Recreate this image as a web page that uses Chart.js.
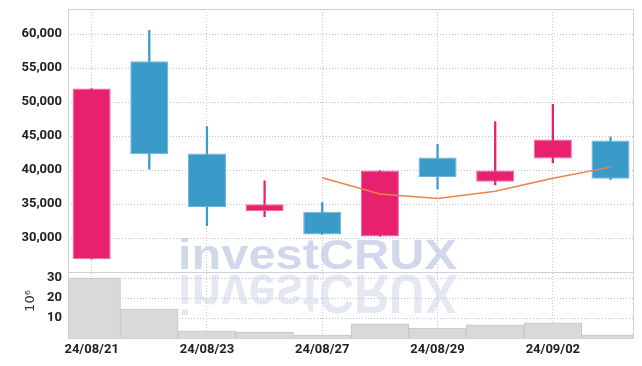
<!DOCTYPE html>
<html>
<head>
<meta charset="utf-8">
<script src="https://cdn.jsdelivr.net/npm/chart.js@4/dist/chart.umd.min.js"></script>
<style>
html, body { margin: 0; padding: 0; background: #fff; }
#pre { position: absolute; left: -2000px; top: 0; font: bold 42px "Liberation Sans"; }
</style>
</head>
<body>
<div id="pre">investCRUX</div>
<canvas id="chart" width="642" height="366"></canvas>
<script>
// Tagesdaten
var dates = ['24/08/21', '24/08/22', '24/08/23', '24/08/26', '24/08/27', '24/08/28', '24/08/29', '24/08/30', '24/09/02', '24/09/03'];
var openP = [26900, 56000, 42450, 34000, 33900, 30250, 41850, 38300, 41700, 44350];
var closeP = [52000, 42350, 34600, 35000, 30550, 39950, 39000, 39950, 44500, 38750];
var highP = [52000, 60550, 46400, 38450, 35250, 39950, 43800, 47150, 49700, 44850];
var lowP = [26900, 40150, 31850, 33150, 30550, 30250, 37250, 37850, 41050, 38600];
var ma5 = [null, null, null, null, 38900, 36500, 35850, 36900, 38800, 40450];
var volume = [30.0, 14.5, 3.6, 3.0, 1.5, 7.1, 5.0, 6.6, 7.6, 1.6]; // in 10^6
var priceTicks = [30000, 35000, 40000, 45000, 50000, 55000, 60000];
var volumeTicks = [10, 20, 30];
var xLabelIdx = [0, 2, 4, 6, 8];

var RED = '#e8216f';
var BLUE = '#3a9bc9';
var tickFont = { family: 'Roboto, "DejaVu Sans", sans-serif', size: 13, weight: 'bold' };

var candleColor = openP.map((o, i) => closeP[i] >= o ? RED : BLUE);
var candleBorder = openP.map((o, i) => closeP[i] >= o ? '#f06a9c' : '#6ab4d8');

var bodies = dates.map((d, i) => ({ x: i, y: [openP[i], closeP[i]] }));
var wicks = dates.map((d, i) => ({ x: i, y: [lowP[i], highP[i]] }));
var vols = dates.map((d, i) => ({ x: i, y: volume[i] }));
var maPts = [];
ma5.forEach((v, i) => { if (v !== null) maPts.push({ x: i, y: v }); });

var noPadY = (s) => { s.width = 68; s.paddingTop = 0; s.paddingBottom = 0; };

// Wasserzeichen und Rahmen
var drawMark = (ctx, x, y, sy, fill) => {
    ctx.save();
    ctx.font = 'bold 42px "Liberation Sans", Arial, sans-serif';
    ctx.textAlign = 'left';
    ctx.textBaseline = 'alphabetic';
    var w = ctx.measureText('investCRUX').width;
    ctx.fillStyle = fill;
    ctx.translate(x, y);
    ctx.scale(279 / w, sy);
    ctx.fillText('investCRUX', 0, 0);
    ctx.restore();
};

var decoPlugin = {
    id: 'deco',
    beforeDatasetsDraw: (chart) => {
        var ctx = chart.ctx;
        drawMark(ctx, 178, 268.5, 1, 'rgba(180,190,222,0.6)');
        drawMark(ctx, 178, 275, -1.3, 'rgba(180,190,222,0.35)');
    },
    afterDraw: (chart) => {
        var ctx = chart.ctx;
        var a = chart.chartArea;
        var sep = chart.scales.y.bottom;
        ctx.save();
        ctx.strokeStyle = '#d0d0d6';
        ctx.lineWidth = 1;
        ctx.strokeRect(Math.round(a.left) + 0.5, Math.round(a.top) + 0.5, Math.round(a.right - a.left), Math.round(a.bottom - a.top));
        ctx.beginPath();
        ctx.moveTo(a.left, Math.round(sep) + 0.5);
        ctx.lineTo(a.right, Math.round(sep) + 0.5);
        ctx.stroke();
        // 10^6 Achsentitel
        ctx.translate(31, 301);
        ctx.rotate(-Math.PI / 2);
        ctx.fillStyle = '#333';
        ctx.font = '13px "DejaVu Sans", sans-serif';
        ctx.textAlign = 'center';
        ctx.textBaseline = 'middle';
        ctx.fillText('10\u2076', 0, 0);
        ctx.restore();
    }
};

var ctx = document.getElementById('chart').getContext('2d');
var chart = new Chart(ctx, {
    type: 'bar',
    data: {
        datasets: [
            {
                type: 'line',
                data: maPts,
                yAxisID: 'y',
                borderColor: '#e8834d',
                borderWidth: 1.5,
                pointRadius: 0,
                tension: 0,
                order: 0
            },
            {
                data: bodies,
                yAxisID: 'y',
                backgroundColor: candleColor,
                borderColor: candleBorder,
                borderWidth: 1,
                borderSkipped: false,
                grouped: false,
                categoryPercentage: 1,
                barPercentage: 0.66,
                order: 1
            },
            {
                data: wicks,
                yAxisID: 'y',
                backgroundColor: candleColor,
                borderWidth: 0,
                grouped: false,
                barThickness: 1.6,
                order: 2
            },
            {
                data: vols,
                yAxisID: 'yv',
                backgroundColor: '#d9d9dc',
                borderColor: '#c6c6cb',
                borderWidth: 1,
                borderSkipped: 'bottom',
                grouped: false,
                categoryPercentage: 1,
                barPercentage: 1,
                order: 3
            }
        ]
    },
    options: {
        responsive: false,
        animation: false,
        layout: { padding: { top: 9, right: 9, left: 0, bottom: 0 } },
        plugins: { legend: { display: false }, tooltip: { enabled: false } },
        scales: {
            x: {
                type: 'linear',
                offset: false,
                min: -0.41,
                max: 9.39,
                afterBuildTicks: (s) => { s.ticks = xLabelIdx.map(v => ({ value: v })); },
                afterFit: (s) => { s.height = 28; s.paddingLeft = 0; s.paddingRight = 0; },
                ticks: {
                    callback: (v) => dates[v],
                    font: tickFont,
                    color: '#222',
                    padding: 4,
                    maxRotation: 0,
                    autoSkip: false
                },
                grid: { color: '#c4c6d2', drawTicks: false, offset: false },
                border: { display: false, dash: [1, 2] }
            },
            y: {
                position: 'left',
                stack: 'panels',
                stackWeight: 4,
                weight: 2,
                min: 25000,
                max: 63700,
                afterBuildTicks: (s) => { s.ticks = priceTicks.map(v => ({ value: v })); },
                afterFit: noPadY,
                ticks: {
                    callback: (v) => v.toLocaleString('en-US'),
                    font: tickFont,
                    color: '#222',
                    padding: 6,
                    autoSkip: false
                },
                grid: { color: '#b9c3dc', drawTicks: false },
                border: { display: false, dash: [1, 2] }
            },
            yv: {
                position: 'left',
                stack: 'panels',
                stackWeight: 1,
                weight: 1,
                min: 0,
                max: 33,
                afterBuildTicks: (s) => { s.ticks = volumeTicks.map(v => ({ value: v })); },
                afterFit: noPadY,
                ticks: {
                    font: tickFont,
                    color: '#222',
                    padding: 6,
                    autoSkip: false
                },
                grid: { color: '#b9c3dc', drawTicks: false },
                border: { display: false, dash: [1, 2] }
            }
        }
    },
    plugins: [decoPlugin]
});

// neu zeichnen, sobald die Schrift fuer das Wasserzeichen geladen ist
document.fonts.load('bold 42px "Liberation Sans"').then(() => chart.draw());
</script>
</body>
</html>
